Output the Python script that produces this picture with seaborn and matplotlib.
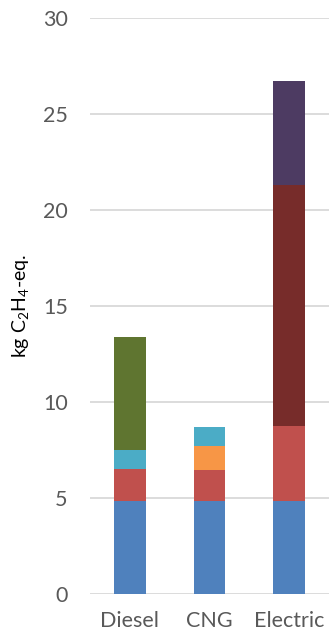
import numpy as np
import matplotlib
matplotlib.use('Agg')
import matplotlib.pyplot as plt
import seaborn as sns

# vehicles and the contribution of each life cycle stage (kg C2H4-eq.)
vehicles = ['Diesel', 'CNG', 'Electric']
base = [4.84, 4.84, 4.84]
second = [1.67, 1.62, 3.91]
cng_fuel = [0.0, 1.26, 0.0]
third = [0.99, 0.96, 0.0]
diesel_fuel = [5.88, 0.0, 0.0]
electricity = [0.0, 0.0, 12.54]
battery = [0.0, 0.0, 5.43]

layers = [base, second, cng_fuel, third, diesel_fuel, electricity, battery]
colors = ['#4F81BD', '#C0504D', '#F79646', '#4BACC6', '#5F7530', '#772C2A', '#4D3B62']

sns.set_style('white')
plt.rcParams['font.family'] = ['Lato', 'DejaVu Sans']
plt.rcParams['mathtext.fontset'] = 'custom'
plt.rcParams['mathtext.rm'] = 'Lato'
plt.rcParams['mathtext.it'] = 'Lato:italic'

fig = plt.figure(figsize=(3.32, 6.36), dpi=100)
ax = fig.add_axes([0.271, 0.066, 0.72, 0.906])

bottom = np.zeros(len(vehicles))
for vals, c in zip(layers, colors):
    sns.barplot(x=vehicles, y=vals, bottom=bottom, color=c, width=0.4,
                linewidth=0, saturation=1, ax=ax, zorder=3)
    bottom += np.array(vals)

ax.set_ylim(0, 30)
ax.set_xlim(-0.5, 2.5)
ax.set_yticks(range(0, 31, 5))
ax.yaxis.grid(True, color='#D9D9D9', linewidth=1.3, zorder=0)
ax.set_axisbelow(True)
for s in ax.spines.values():
    s.set_visible(False)
ax.tick_params(axis='both', length=0, labelsize=15.5, colors='#595959')
ax.tick_params(axis='y', pad=16)
ax.tick_params(axis='x', pad=12)
ax.set_ylabel(r'kg C$_2$H$_4$-eq.', fontsize=14, color='black')
ax.yaxis.set_label_coords(-0.245, 0.5)

fig.savefig('out.png', dpi=100)
